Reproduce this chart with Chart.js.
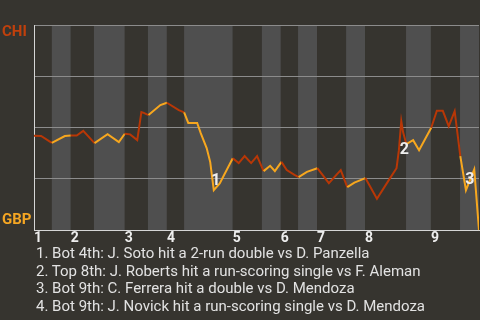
<!DOCTYPE html>
<html>
<head>
<meta charset="utf-8">
<script src="https://cdn.jsdelivr.net/npm/chart.js@4"></script>
<style>
  body { margin: 0; background: #36342f; width: 480px; height: 320px; overflow: hidden; position: relative; font-family: Roboto, sans-serif; }
  #wp { position: absolute; left: 0; top: 0; }
  .team { position: absolute; left: 2px; font-weight: bold; font-size: 15px; line-height: 18px; }
  #chi { top: 22px; color: #c0400c; }
  #gbp { top: 210px; color: #f5a623; }
  #notes { position: absolute; left: 36px; top: 245px; margin: 0; padding: 0; list-style: none; color: #e2e2e2; font-size: 15px; line-height: 17.7px; white-space: nowrap; }
</style>
</head>
<body>
<canvas id="wp" width="480" height="250"></canvas>
<div class="team" id="chi">CHI</div>
<div class="team" id="gbp">GBP</div>
<ul id="notes"></ul>
<script>
const innings = ['1', '2', '3', '4', '5', '6', '7', '8', '9'];
// where each half inning starts (play number), top/bottom alternating
const halfStarts = [0, 3, 6.2, 10.1, 15.3, 19.2, 22.4, 25.3, 33.5, 38.4, 41.6, 44.5, 47.7, 52.6, 55.8, 62.7, 66.9, 71.8];
const gameEnd = 75;

const playX = [0, 1.2, 3.0, 5.2, 6.2, 7.2, 8.3, 10.2, 12.4, 14.3,
  15.3, 16.2, 17.4, 18.1, 18.5, 19.3, 21.3, 22.4, 24.4, 25.3,
  26.0, 27.5, 28.1, 29.1, 29.7, 30.3, 31.3, 33.5, 34.5, 35.5,
  36.6, 37.6, 38.7, 39.8, 40.6, 41.7, 42.6, 43.9, 44.6, 46.0,
  47.75, 49.7, 51.7, 52.8, 54.0, 55.85, 57.8, 59.8, 61.1, 61.5,
  61.9, 62.2, 62.75, 63.9, 64.9, 66.95, 67.9, 68.9, 69.9, 70.9,
  71.85, 72.8, 74.2, 75];
// CHI win probability (1 = CHI wins, 0 = GBP wins)
const chiProb = [0.46, 0.459, 0.426, 0.459, 0.462, 0.461, 0.484, 0.424, 0.468, 0.429,
  0.47, 0.467, 0.439, 0.576, 0.572, 0.561, 0.61, 0.621, 0.585, 0.574,
  0.523, 0.523, 0.473, 0.40, 0.332, 0.195, 0.228, 0.351, 0.327, 0.361,
  0.327, 0.361, 0.288, 0.314, 0.288, 0.333, 0.293, 0.27, 0.259, 0.284,
  0.302, 0.229, 0.293, 0.21, 0.232, 0.254, 0.153, 0.244, 0.302, 0.39,
  0.532, 0.478, 0.42, 0.439, 0.39, 0.499, 0.582, 0.582, 0.507, 0.58,
  0.361, 0.195, 0.296, 0.0];

const notes = [
  '1. Bot 4th: J. Soto hit a 2-run double vs D. Panzella',
  '2. Top 8th: J. Roberts hit a run-scoring single vs F. Aleman',
  '3. Bot 9th: C. Ferrera hit a double vs D. Mendoza',
  '4. Bot 9th: J. Novick hit a run-scoring single vs D. Mendoza'
];
// point index each marker is attached to
const noteAt = [25, 52, 61];

const CHI_COLOR = '#b83706';
const GBP_COLOR = '#f7a71e';

const inningStarts = halfStarts.filter((v, i) => i % 2 === 0);

const halfIndex = x => {
  let idx = 0;
  halfStarts.forEach((b, i) => { if (x >= b - 0.001) idx = i; });
  return idx;
};

document.getElementById('notes').innerHTML = notes.map(n => '<li>' + n + '</li>').join('');

//Shaded half innings
const bandsPlugin = {
  id: 'bands',
  beforeDraw(chart) {
    const {ctx, chartArea, scales} = chart;
    ctx.save();
    ctx.fillStyle = '#36342f';
    ctx.fillRect(0, 0, chart.width, chart.height);
    halfStarts.forEach((start, i) => {
      const end = i + 1 < halfStarts.length ? halfStarts[i + 1] : gameEnd;
      const x0 = scales.x.getPixelForValue(start);
      const x1 = scales.x.getPixelForValue(end);
      ctx.fillStyle = i % 2 === 0 ? '#36342f' : '#4f4f4f';
      ctx.fillRect(x0, chartArea.top, x1 - x0, chartArea.bottom - chartArea.top);
    });
    ctx.restore();
  }
};

//Numbered markers on the line
const markersPlugin = {
  id: 'markers',
  afterDatasetsDraw(chart) {
    const {ctx, scales} = chart;
    const offsets = [[2, -9], [-2, 6], [4, -10]];
    ctx.save();
    ctx.font = 'bold 16px Roboto';
    ctx.fillStyle = '#eeeeee';
    ctx.textAlign = 'center';
    ctx.textBaseline = 'middle';
    noteAt.forEach((p, i) => {
      const px = scales.x.getPixelForValue(playX[p]) + offsets[i][0];
      const py = scales.y.getPixelForValue(chiProb[p]) + offsets[i][1];
      ctx.fillText(String(i + 1), px, py);
    });
    ctx.restore();
  }
};

const data = {
  datasets: [{
    data: playX.map((x, i) => ({x: x, y: chiProb[i]})),
    borderWidth: 2,
    pointRadius: 0,
    tension: 0,
    borderColor: CHI_COLOR,
    segment: {
      borderColor: ctx => halfIndex(ctx.p0.parsed.x) % 2 === 0 ? CHI_COLOR : GBP_COLOR
    }
  }]
};

const config = {
  type: 'line',
  data: data,
  options: {
    responsive: false,
    animation: false,
    devicePixelRatio: 1,
    layout: { padding: { left: 34, top: 25, right: 1, bottom: 3 } },
    plugins: {
      legend: { display: false },
      tooltip: { enabled: false }
    },
    scales: {
      x: {
        type: 'linear',
        min: 0,
        max: gameEnd,
        afterBuildTicks: axis => { axis.ticks = inningStarts.map(v => ({value: v})); },
        ticks: {
          align: 'start',
          padding: 0,
          maxRotation: 0,
          autoSkip: false,
          color: '#eeeeee',
          font: { family: 'Roboto', size: 14, weight: 'bold' },
          callback: (value, index) => innings[index]
        },
        grid: { display: false, drawTicks: false },
        border: { display: true, color: '#d6d6d6', width: 1 }
      },
      y: {
        min: 0,
        max: 1,
        ticks: { display: false, stepSize: 0.25 },
        grid: { color: '#8c8c8c', drawTicks: false, lineWidth: 1 },
        border: { display: true, color: '#d6d6d6', width: 1 }
      }
    }
  },
  plugins: [bandsPlugin, markersPlugin]
};

const myChart = new Chart(document.getElementById('wp'), config);
</script>
</body>
</html>
